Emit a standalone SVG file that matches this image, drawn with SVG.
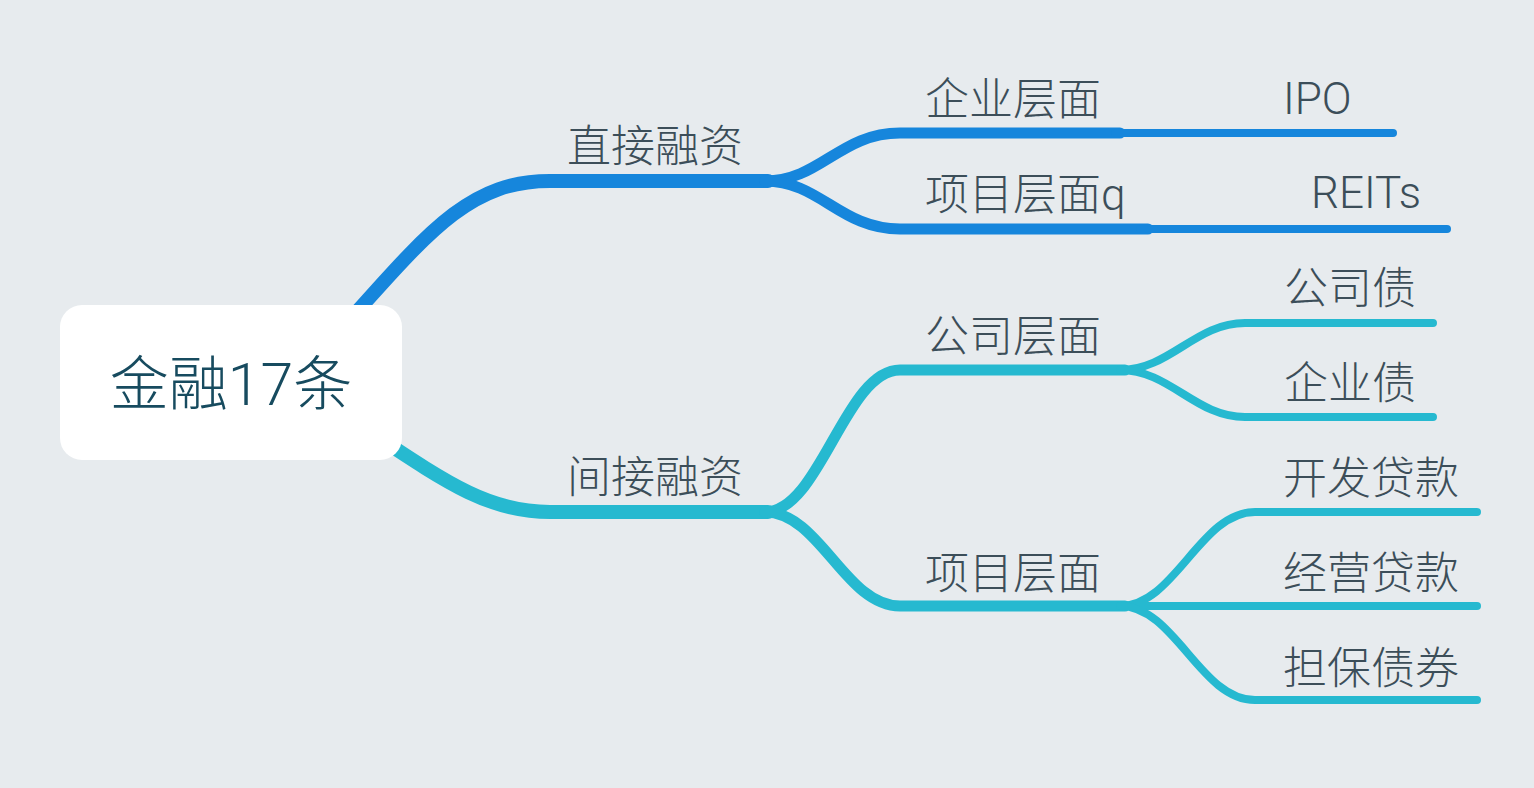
<svg xmlns="http://www.w3.org/2000/svg" width="1534" height="788" viewBox="0 0 1534 788">
<style>
.bg{fill:#e7ebee}
.lnk{fill:none;stroke-linecap:round;stroke-linejoin:round}
.blue{stroke:#1686dc}
.cyan{stroke:#26b9d0}
.l1{stroke-width:14}
.l2{stroke-width:11}
.l3{stroke-width:8}
.t{font-family:Roboto,"Noto Sans CJK SC",sans-serif;font-size:44px;font-weight:300;fill:#3c4e59}
.root{font-family:Roboto,"Noto Sans CJK SC",sans-serif;font-size:59px;font-weight:300;fill:#174b5f}
</style>
<rect class="bg" x="0" y="0" width="1534" height="788"/>
<g id="connectors">
  <path class="lnk blue l1" d="M345,325 C430,230 470,181 550,181 L768,181"/>
  <path class="lnk cyan l1" d="M370,432 C450,485 490,512 550,512 L768,512"/>
  <path class="lnk blue l2" d="M765,181 C820,181 840,133 900,133 L1120,133"/>
  <path class="lnk blue l2" d="M765,181 C820,181 840,229 900,229 L1148,229"/>
  <path class="lnk blue l3" d="M1115,133 L1393,133"/>
  <path class="lnk blue l3" d="M1140,229 L1447,229"/>
  <path class="lnk cyan l2" d="M765,512 C820,512 845,370 900,370 L1125,370"/>
  <path class="lnk cyan l2" d="M765,512 C820,512 845,606 900,606 L1125,606"/>
  <path class="lnk cyan l3" d="M1120,370 C1170,370 1195,323 1245,323 L1433,323"/>
  <path class="lnk cyan l3" d="M1120,370 C1170,370 1195,417 1245,417 L1433,417"/>
  <path class="lnk cyan l3" d="M1120,606 C1175,606 1200,512 1255,512 L1477,512"/>
  <path class="lnk cyan l3" d="M1120,606 L1477,606"/>
  <path class="lnk cyan l3" d="M1120,606 C1175,606 1200,700 1255,700 L1477,700"/>
</g>
<g id="root">
  <rect x="60" y="305" width="342" height="155" rx="22" fill="#ffffff"/>
  <text class="root" x="231" y="405" text-anchor="middle">金融17条</text>
</g>
<g id="n-direct"><text class="t" x="567" y="162">直接融资</text></g>
<g id="n-indirect"><text class="t" x="567" y="493">间接融资</text></g>
<g id="n-enterprise-level"><text class="t" x="925" y="115">企业层面</text></g>
<g id="n-project-level-q"><text class="t" x="925" y="210">项目层面q</text></g>
<g id="n-ipo"><text class="t" x="1283" y="114">IPO</text></g>
<g id="n-reits"><text class="t" x="1311" y="208">REITs</text></g>
<g id="n-company-level"><text class="t" x="925" y="352">公司层面</text></g>
<g id="n-project-level"><text class="t" x="925" y="589">项目层面</text></g>
<g id="n-corp-bond"><text class="t" x="1284" y="304">公司债</text></g>
<g id="n-ent-bond"><text class="t" x="1284" y="399">企业债</text></g>
<g id="n-dev-loan"><text class="t" x="1283" y="494">开发贷款</text></g>
<g id="n-op-loan"><text class="t" x="1283" y="589">经营贷款</text></g>
<g id="n-guarantee"><text class="t" x="1283" y="684">担保债券</text></g>
</svg>
